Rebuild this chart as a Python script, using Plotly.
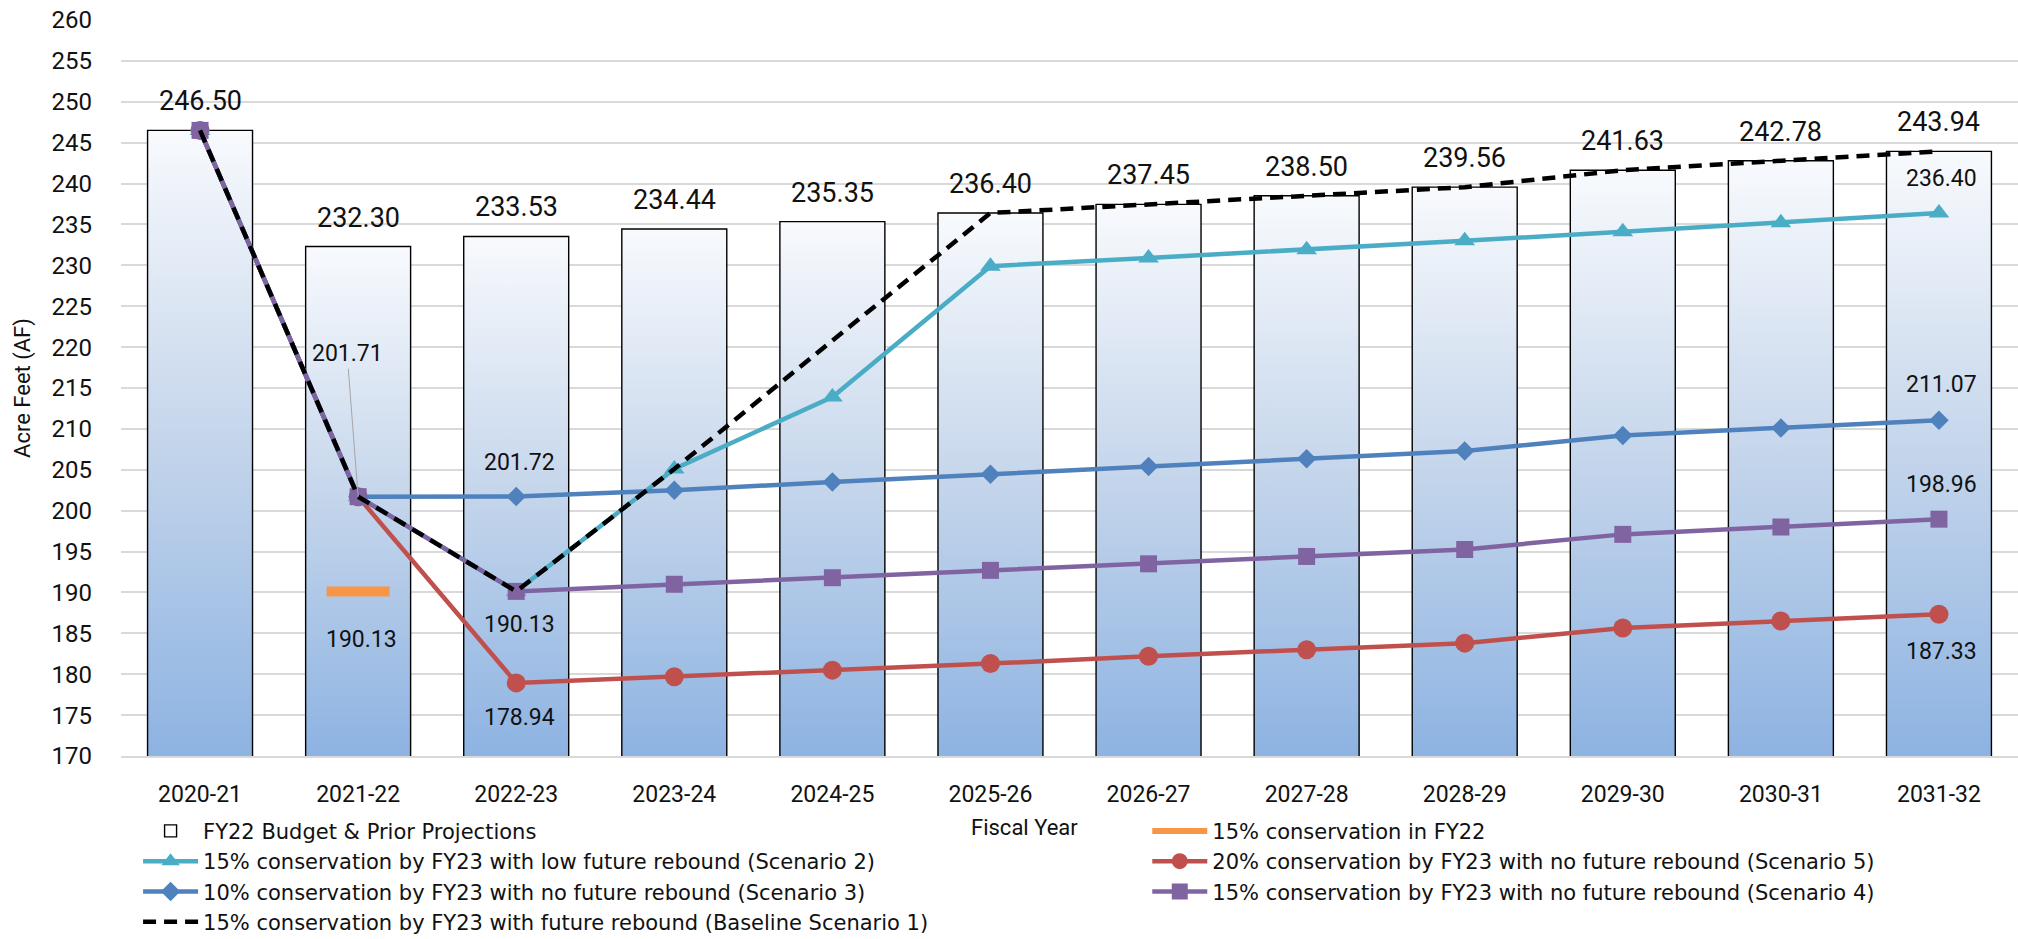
import plotly.graph_objects as go

# ---------------- data ----------------
CATS = ["2020-21", "2021-22", "2022-23", "2023-24", "2024-25", "2025-26",
        "2026-27", "2027-28", "2028-29", "2029-30", "2030-31", "2031-32"]
BUDGET = [246.50, 232.30, 233.53, 234.44, 235.35, 236.40, 237.45, 238.50,
          239.56, 241.63, 242.78, 243.94]
S1_BASE = [246.50, 201.71, 190.13, 205.1, 220.8, 236.40, 237.45, 238.50,
           239.56, 241.63, 242.78, 243.94]
S2_LOW = [246.50, 201.71, 190.13, 205.1, 213.9, 229.9, 230.9, 231.9,
          233.0, 234.1, 235.2, 236.40]
S3_10 = [246.50, 201.71, 201.72, 202.5, 203.5, 204.45, 205.4, 206.35,
         207.3, 209.2, 210.1, 211.07]
S4_15 = [246.50, 201.71, 190.13, 191.0, 191.8, 192.7, 193.5, 194.4,
         195.25, 197.1, 198.0, 198.96]
S5_20 = [246.50, 201.71, 178.94, 179.7, 180.5, 181.3, 182.2, 183.0,
         183.8, 185.65, 186.5, 187.33]
FY22_CONS = [None, 190.13, None, None, None, None, None, None, None, None, None, None]

NAMES = {
    "bud": "FY22 Budget & Prior Projections",
    "s2": "15% conservation by FY23 with low future rebound (Scenario 2)",
    "s3": "10% conservation by FY23 with no future rebound (Scenario 3)",
    "s1": "15% conservation by FY23 with future rebound (Baseline Scenario 1)",
    "fy22": "15% conservation in FY22",
    "s5": "20% conservation by FY23 with no future rebound (Scenario 5)",
    "s4": "15% conservation by FY23 with no future rebound (Scenario 4)",
}

Y_MIN, Y_MAX = 170, 260
X = list(range(len(CATS)))

# ---------------- style ----------------
FONT = "Roboto, 'Open Sans', Arial, sans-serif"
LEG_FONT = "'DejaVu Sans', 'Open Sans', Arial, sans-serif"
BAR_W = 0.664
C_CYAN, C_BLUE, C_RED, C_PURP, C_ORNG = "#4BACC6", "#4F81BD", "#C0504D", "#8064A2", "#F79646"
LW = 4.5

fig = go.Figure()

# gradient fills of the bars (base subplot)
for i, v in enumerate(BUDGET):
    xl, xr = X[i] - BAR_W / 2, X[i] + BAR_W / 2
    fig.add_trace(go.Scatter(
        x=[xl, xl, xr, xr, xl], y=[0, v, v, 0, 0],
        mode="lines", fill="toself", line=dict(width=0, color="rgba(0,0,0,0)"),
        fillgradient=dict(type="vertical", start=Y_MIN, stop=v,
                          colorscale=[[0, "#8DB3E2"], [0.5, "#C4D5EB"], [1, "#F8FAFD"]]),
        showlegend=False, hoverinfo="skip", xaxis="x", yaxis="y"))

# bars outline (overlay subplot)
fig.add_trace(go.Bar(
    x=X, y=BUDGET, width=BAR_W, name=NAMES["bud"],
    marker=dict(color="rgba(255,255,255,0)", line=dict(color="#000000", width=1.4)),
    legend="legend", legendrank=1, xaxis="x", yaxis="y2"))

def line_trace(y, name, color, symbol, size, legend, rank):
    return go.Scatter(
        x=X, y=y, name=name, mode="lines+markers",
        line=dict(color=color, width=LW),
        marker=dict(symbol=symbol, size=size, color=color, line=dict(width=0)),
        legend=legend, legendrank=rank, xaxis="x", yaxis="y2")

fig.add_trace(line_trace(S5_20, NAMES["s5"], C_RED, "circle", 19, "legend2", 2))
fig.add_trace(line_trace(S2_LOW, NAMES["s2"], C_CYAN, "triangle-up", 18, "legend", 2))
fig.add_trace(line_trace(S3_10, NAMES["s3"], C_BLUE, "diamond", 15, "legend", 3))
fig.add_trace(line_trace(S4_15, NAMES["s4"], C_PURP, "square", 17, "legend2", 3))
fig.add_trace(go.Scatter(
    x=X, y=S1_BASE, name=NAMES["s1"], mode="lines",
    line=dict(color="#000000", width=LW, dash="13px,8px"),
    legend="legend", legendrank=4, xaxis="x", yaxis="y2"))
fig.add_trace(go.Scatter(
    x=X, y=FY22_CONS, name=NAMES["fy22"], mode="lines+markers",
    line=dict(color=C_ORNG, width=6),
    marker=dict(symbol="line-ew", size=45, color=C_ORNG, line=dict(color=C_ORNG, width=10)),
    legend="legend2", legendrank=1, xaxis="x", yaxis="y2"))

# ---------------- labels ----------------
ann = []
for i, v in enumerate(BUDGET):
    ann.append(dict(x=X[i], y=v, xref="x", yref="y", text=f"{v:.2f}", showarrow=False,
                    yanchor="middle", yshift=29, font=dict(size=27, color="#111111", family=FONT)))

LABELS = [(S3_10, 2, 34), (S4_15, 2, -33), (S5_20, 2, -35), (FY22_CONS, 1, -48),
          (S2_LOW, 11, 35), (S3_10, 11, 36), (S4_15, 11, 35), (S5_20, 11, -37)]
for arr, i, ys in LABELS:
    ann.append(dict(x=X[i], y=arr[i], xref="x", yref="y", text=f"{arr[i]:.2f}", showarrow=False,
                    yanchor="middle", yshift=ys, xshift=3,
                    font=dict(size=23, color="#111111", family=FONT)))
# leader-line label
ann.append(dict(x=X[1], y=S1_BASE[1], xref="x", yref="y", text=f"{S1_BASE[1]:.2f}",
                showarrow=True, arrowhead=0, arrowwidth=1, arrowcolor="#A6A6A6",
                ax=-11, ay=-143, standoff=0, font=dict(size=23, color="#111111", family=FONT)))
ann.append(dict(x=0.4765, y=-0.0965, xref="paper", yref="paper", text="Fiscal Year",
                showarrow=False, xanchor="center", yanchor="middle",
                font=dict(size=22, color="#111111", family=FONT)))

fig.update_layout(
    width=2018, height=939, autosize=False,
    margin=dict(l=121, r=0, t=20, b=183, autoexpand=False),
    paper_bgcolor="white", plot_bgcolor="white",
    font=dict(family=FONT, color="#111111"),
    barmode="overlay", showlegend=True,
    xaxis=dict(type="linear", range=[-0.5, 11.5], tickvals=X, ticktext=CATS,
               showgrid=False, zeroline=False, ticks="", tickfont=dict(size=23),
               ticklabelstandoff=16, showline=True, linecolor="#D9D9D9", linewidth=2),
    yaxis=dict(range=[Y_MIN, Y_MAX], dtick=5, tick0=170, showgrid=True, gridcolor="#D9D9D9",
               gridwidth=1.5, zeroline=False, ticks="", tickfont=dict(size=24),
               ticklabelstandoff=28,
               title=dict(text="Acre Feet (AF)", font=dict(size=22), standoff=14)),
    yaxis2=dict(range=[Y_MIN, Y_MAX], overlaying="y", visible=False, showgrid=False),
    legend=dict(x=0.009, y=-0.0744, xanchor="left", yanchor="top", orientation="v",
                font=dict(size=21, family=LEG_FONT), itemwidth=55, bgcolor="rgba(0,0,0,0)",
                tracegroupgap=0, traceorder="normal"),
    legend2=dict(x=0.541, y=-0.0744, xanchor="left", yanchor="top", orientation="v",
                 font=dict(size=21, family=LEG_FONT), itemwidth=55, bgcolor="rgba(0,0,0,0)",
                 tracegroupgap=0, traceorder="normal"),
    annotations=ann,
)

fig.write_html("out.html", config={"displayModeBar": False},
               post_script="document.body.style.margin='0';document.body.style.overflow='hidden';")
